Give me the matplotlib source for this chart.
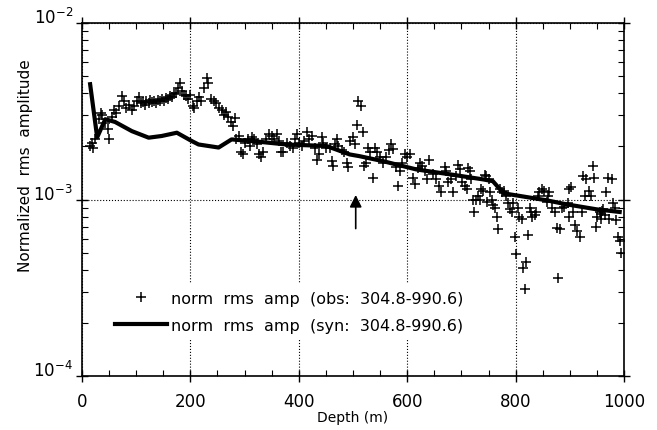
import matplotlib
matplotlib.use('Agg')
import matplotlib.pyplot as plt
from matplotlib.ticker import MultipleLocator, LogLocator, NullFormatter

# synthetic (line)
syn_depth = [15, 28, 43, 61, 92, 123, 147, 175, 203, 215, 252, 276, 316, 377,
             451, 494, 512, 555, 617, 678, 740, 758, 777, 789, 857, 893, 949, 992]
syn_amp = [4.5e-3, 2.25e-3, 2.85e-3, 2.75e-3, 2.44e-3, 2.24e-3, 2.29e-3, 2.39e-3,
           2.14e-3, 2.05e-3, 1.97e-3, 2.19e-3, 2.14e-3, 2.05e-3, 2.01e-3, 1.80e-3,
           1.76e-3, 1.65e-3, 1.48e-3, 1.39e-3, 1.30e-3, 1.27e-3, 1.09e-3, 1.07e-3,
           0.99e-3, 0.94e-3, 0.88e-3, 0.85e-3]

# observed (crosses)
obs_depth = [15, 18, 20, 24, 31, 35, 37, 42, 48, 50, 55, 59, 62, 68, 74, 77, 82, 87, 92, 96,
             101, 105, 108, 112, 116, 119, 123, 126, 130, 133, 137, 140, 144, 147, 151, 155,
             158, 162, 166, 170, 174, 178, 181, 184, 188, 192, 196, 200, 204, 207, 212, 216,
             220, 226, 230, 233, 238, 243, 247, 252, 258, 262, 266, 270, 275, 278, 282, 285,
             289, 293, 297, 301, 306, 310, 314, 318, 322, 326, 330, 334, 340, 345, 350, 355,
             360, 364, 368, 371, 378, 383, 389, 393, 396, 400, 405, 410, 415, 419, 424, 429,
             433, 437, 442, 445, 451, 457, 461, 463, 467, 470, 472, 479, 484, 488, 490, 494,
             500, 503, 507, 510, 514, 518, 521, 524, 527, 531, 537, 541, 544, 549, 555, 560,
             566, 571, 573, 580, 583, 586, 590, 596, 600, 605, 610, 614, 619, 623, 628, 632,
             637, 641, 648, 654, 658, 663, 669, 672, 675, 680, 684, 690, 693, 697, 702, 706,
             710, 712, 715, 718, 721, 723, 727, 731, 734, 737, 740, 743, 746, 748, 750, 753,
             756, 759, 762, 765, 767, 771, 774, 778, 782, 786, 789, 793, 796, 798, 800, 804,
             807, 811, 813, 817, 820, 822, 826, 829, 831, 835, 838, 842, 844, 848, 853, 857,
             860, 862, 868, 872, 877, 878, 881, 886, 890, 896, 898, 899, 903, 906, 909, 913,
             918, 922, 924, 928, 930, 936, 940, 942, 945, 948, 951, 955, 957, 958, 960, 962,
             964, 967, 970, 973, 977, 980, 983, 986, 988, 992, 995]
obs_amp = [2.0e-3, 2.1e-3, 1.95e-3, 2.2e-3, 2.85e-3, 3.1e-3, 3.0e-3, 2.7e-3, 2.5e-3, 2.2e-3,
           2.95e-3, 3.2e-3, 3.1e-3, 3.4e-3, 3.85e-3, 3.6e-3, 3.3e-3, 3.45e-3, 3.2e-3, 3.4e-3,
           3.6e-3, 3.8e-3, 3.5e-3, 3.55e-3, 3.45e-3, 3.6e-3, 3.5e-3, 3.65e-3, 3.55e-3, 3.6e-3,
           3.5e-3, 3.65e-3, 3.6e-3, 3.7e-3, 3.6e-3, 3.75e-3, 3.7e-3, 3.85e-3, 3.8e-3, 3.95e-3,
           4.0e-3, 4.3e-3, 4.6e-3, 4.1e-3, 3.9e-3, 3.85e-3, 3.7e-3, 3.9e-3, 3.4e-3, 3.3e-3,
           3.6e-3, 3.8e-3, 3.6e-3, 4.3e-3, 4.9e-3, 4.6e-3, 3.7e-3, 3.6e-3, 3.5e-3, 3.3e-3,
           3.2e-3, 3.0e-3, 3.15e-3, 2.95e-3, 2.75e-3, 2.6e-3, 2.9e-3, 2.2e-3, 2.3e-3, 1.85e-3,
           1.8e-3, 2.1e-3, 2.2e-3, 2.0e-3, 2.25e-3, 2.2e-3, 2.05e-3, 1.8e-3, 1.75e-3, 1.85e-3,
           2.2e-3, 2.35e-3, 2.3e-3, 2.2e-3, 2.35e-3, 2.15e-3, 1.87e-3, 1.85e-3, 2.1e-3, 2.0e-3,
           1.95e-3, 2.2e-3, 2.35e-3, 2.1e-3, 2.0e-3, 2.15e-3, 2.4e-3, 2.2e-3, 2.3e-3, 1.95e-3,
           1.68e-3, 1.8e-3, 2.25e-3, 2.1e-3, 1.95e-3, 1.95e-3, 1.65e-3, 1.55e-3, 2.05e-3, 2.2e-3,
           2.0e-3, 1.9e-3, 1.85e-3, 1.6e-3, 1.52e-3, 2.15e-3, 2.25e-3, 2.05e-3, 2.65e-3, 3.6e-3,
           3.4e-3, 2.4e-3, 1.55e-3, 1.6e-3, 1.97e-3, 1.85e-3, 1.33e-3, 1.95e-3, 1.85e-3, 1.74e-3,
           1.62e-3, 1.75e-3, 1.9e-3, 2.05e-3, 1.93e-3, 1.52e-3, 1.19e-3, 1.45e-3, 1.6e-3, 1.8e-3,
           1.75e-3, 1.8e-3, 1.33e-3, 1.22e-3, 1.5e-3, 1.62e-3, 1.55e-3, 1.45e-3, 1.3e-3, 1.68e-3,
           1.4e-3, 1.3e-3, 1.2e-3, 1.1e-3, 1.52e-3, 1.45e-3, 1.25e-3, 1.3e-3, 1.1e-3, 1.35e-3,
           1.57e-3, 1.48e-3, 1.25e-3, 1.2e-3, 1.15e-3, 1.5e-3, 1.45e-3, 1.3e-3, 1.0e-3, 0.85e-3,
           1.0e-3, 1.05e-3, 1.0e-3, 1.15e-3, 1.12e-3, 1.38e-3, 1.35e-3, 0.97e-3, 1.3e-3, 1.1e-3,
           1.0e-3, 0.93e-3, 0.9e-3, 0.8e-3, 0.68e-3, 1.15e-3, 1.1e-3, 1.12e-3, 1.05e-3, 0.95e-3,
           0.88e-3, 0.85e-3, 0.95e-3, 0.61e-3, 0.49e-3, 0.9e-3, 0.8e-3, 0.78e-3, 0.41e-3, 0.31e-3,
           0.44e-3, 0.63e-3, 0.9e-3, 0.85e-3, 0.8e-3, 0.82e-3, 0.85e-3, 1.05e-3, 1.1e-3, 1.15e-3,
           1.12e-3, 0.97e-3, 1.05e-3, 1.1e-3, 0.9e-3, 0.85e-3, 0.69e-3, 0.36e-3, 0.68e-3, 0.9e-3,
           0.91e-3, 0.95e-3, 0.8e-3, 1.14e-3, 1.18e-3, 0.85e-3, 0.72e-3, 0.66e-3, 0.61e-3, 0.85e-3,
           1.36e-3, 1.05e-3, 1.3e-3, 1.12e-3, 1.05e-3, 1.55e-3, 1.33e-3, 0.7e-3, 0.8e-3, 0.85e-3,
           0.83e-3, 0.78e-3, 0.86e-3, 0.88e-3, 0.82e-3, 1.1e-3, 1.33e-3, 0.78e-3, 1.3e-3, 0.95e-3,
           0.9e-3, 0.77e-3, 0.61e-3, 0.58e-3, 0.5e-3]

obs_label = 'norm  rms  amp  (obs:  304.8-990.6)'
syn_label = 'norm  rms  amp  (syn:  304.8-990.6)'
arrow_depth = 505

plt.rcParams['font.family'] = 'DejaVu Sans'

fig = plt.figure(figsize=(6.57, 4.31), dpi=100)
ax = fig.add_axes([0.1248, 0.1253, 0.825, 0.819])

ax.plot(obs_depth, obs_amp, '+', color='k', ms=7, mew=1.1, label=obs_label)
ax.plot(syn_depth, syn_amp, '-', color='k', lw=3, label=syn_label)

ax.set_yscale('log')
ax.set_xlim(0, 1000)
ax.set_ylim(1e-4, 1e-2)

ax.xaxis.set_major_locator(MultipleLocator(200))
ax.xaxis.set_minor_locator(MultipleLocator(50))
ax.yaxis.set_minor_locator(LogLocator(base=10, subs=range(2, 10)))
ax.yaxis.set_minor_formatter(NullFormatter())

ax.tick_params(which='major', direction='inout', length=9, width=1,
               top=True, right=True, labelsize=12)
ax.tick_params(axis='x', which='major', pad=7)
ax.tick_params(axis='y', which='major', pad=2)
ax.tick_params(which='minor', direction='in', length=4, width=0.8,
               top=True, right=True)
for lab in ax.get_yticklabels():
    lab.set_verticalalignment('baseline')
for s in ax.spines.values():
    s.set_linewidth(1.2)

ax.grid(True, which='major', ls=':', color='k', lw=0.8)

ax.set_xlabel('Depth (m)', fontsize=10, labelpad=0)
ax.set_ylabel('Normalized  rms  amplitude', fontsize=11)
ax.yaxis.set_label_coords(-0.09, 0.60)

ax.annotate('', xy=(arrow_depth, 1.1e-3), xytext=(arrow_depth, 6.6e-4),
            arrowprops=dict(arrowstyle='-|>', color='k', lw=1.2, mutation_scale=18))

leg = ax.legend(loc='upper left', bbox_to_anchor=(0.05, 0.26), fontsize=11.5,
                frameon=True, edgecolor='none', facecolor='white', framealpha=1,
                fancybox=False, handlelength=3.2, handletextpad=0.3,
                labelspacing=0.75, borderaxespad=0)

fig.savefig('out.png', dpi=100)
